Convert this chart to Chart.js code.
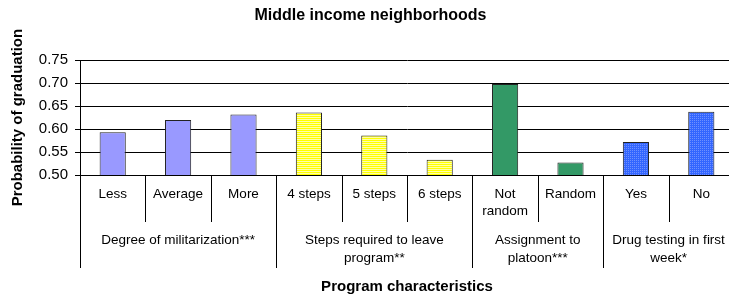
<!DOCTYPE html>
<html>
<head>
<meta charset="utf-8">
<script src="https://cdn.jsdelivr.net/npm/chart.js@4"></script>
<style>
    html, body { margin: 0; padding: 0; background: #fff; overflow: hidden; }
    #wrap { position: relative; width: 745px; height: 297px; }
</style>
</head>
<body>
<div id="wrap"><canvas id="chart"></canvas></div>
<script>
const categories = ["Less", "Average", "More", "4 steps", "5 steps", "6 steps", ["Not", "random"], "Random", "Yes", "No"];
const probabilities = [0.593, 0.620, 0.632, 0.636, 0.586, 0.533, 0.698, 0.527, 0.572, 0.638];
const groupNames = [
    ["Degree of militarization***"],
    ["Steps required to leave", "program**"],
    ["Assignment to", "platoon***"],
    ["Drug testing in first", "week*"]
];
const groupSizes = [3, 3, 2, 2];
const yTicks = [0.50, 0.55, 0.60, 0.65, 0.70, 0.75];

const FONT = '"Liberation Sans", Arial, sans-serif';

function stripePattern() {
    const c = document.createElement("canvas");
    c.width = 4; c.height = 2;
    const g = c.getContext("2d");
    g.fillStyle = "#ffff00"; g.fillRect(0, 0, 4, 1);
    g.fillStyle = "#ffffa8"; g.fillRect(0, 1, 4, 1);
    return g.createPattern(c, "repeat");
}

function dotPattern() {
    const c = document.createElement("canvas");
    c.width = 2; c.height = 2;
    const g = c.getContext("2d");
    g.fillStyle = "#3366ff"; g.fillRect(0, 0, 2, 2);
    g.fillStyle = "#6f90ff"; g.fillRect(0, 0, 1, 1);
    return g.createPattern(c, "repeat");
}

const yellow = stripePattern();
const blue = dotPattern();
const barColors = ["#9999ff", "#9999ff", "#9999ff", yellow, yellow, yellow, "#339966", "#339966", blue, blue];

// category labels, separators and group names under the axis
const xLabels = {
    id: "xLabels",
    afterDraw(chart) {
        const { ctx, chartArea } = chart;
        const x = chart.scales.x;
        const top = chartArea.bottom;
        const step = x.width / categories.length;
        ctx.save();
        ctx.fillStyle = "#000";
        ctx.strokeStyle = "#000";
        ctx.lineWidth = 1;
        ctx.textAlign = "center";
        ctx.textBaseline = "middle";
        ctx.font = "13.5px " + FONT;

        categories.forEach((lab, i) => {
            const cx = x.getPixelForValue(i);
            const lines = Array.isArray(lab) ? lab : [lab];
            lines.forEach((t, j) => ctx.fillText(t, cx, top + 19 + j * 17));
        });

        const edges = [0];
        groupSizes.forEach(n => edges.push(edges[edges.length - 1] + n));
        for (let i = 0; i <= categories.length; i++) {
            const long = edges.includes(i);
            const px = Math.round(x.left + i * step) + 0.5;
            ctx.beginPath();
            ctx.moveTo(px, top);
            ctx.lineTo(px, top + (long ? 93 : 47));
            ctx.stroke();
        }

        groupNames.forEach((lines, g) => {
            const cx = x.left + (edges[g] + edges[g + 1]) / 2 * step;
            lines.forEach((t, j) => ctx.fillText(t, cx, top + 65 + j * 18));
        });
        ctx.restore();
    }
};

new Chart(document.getElementById("chart"), {
    type: "bar",
    data: {
        labels: categories,
        datasets: [{
            data: probabilities,
            backgroundColor: barColors,
            borderColor: "#222",
            borderWidth: 1,
            barPercentage: 0.4,
            categoryPercentage: 1
        }]
    },
    options: {
        responsive: true,
        maintainAspectRatio: false,
        animation: false,
        layout: { padding: { left: 7, right: 11 } },
        plugins: {
            legend: { display: false },
            tooltip: { enabled: false },
            title: {
                display: true,
                text: "Middle income neighborhoods",
                color: "#000",
                font: { family: FONT, size: 16, weight: "bold" },
                padding: { top: 6, bottom: 35 }
            }
        },
        scales: {
            x: {
                grid: { display: false, drawTicks: false },
                border: { display: false },
                ticks: { display: false },
                title: {
                    display: true,
                    text: "Program characteristics",
                    color: "#000",
                    font: { family: FONT, size: 15, weight: "bold" },
                    padding: { top: 103, bottom: 1 }
                }
            },
            y: {
                min: 0.5,
                max: 0.75,
                afterFit(s) { s.width = 73; },
                afterBuildTicks(s) { s.ticks = yTicks.map(v => ({ value: v })); },
                ticks: {
                    color: "#000",
                    padding: 7,
                    font: { family: FONT, size: 15 },
                    callback: v => v.toFixed(2)
                },
                grid: { color: "#000", lineWidth: 1, tickLength: 5 },
                border: { display: true, color: "#000", width: 1 },
                title: {
                    display: true,
                    text: "Probability of graduation",
                    color: "#000",
                    font: { family: FONT, size: 15, weight: "bold" },
                    padding: { top: 2, bottom: 0 }
                }
            }
        }
    },
    plugins: [xLabels]
});
</script>
</body>
</html>
